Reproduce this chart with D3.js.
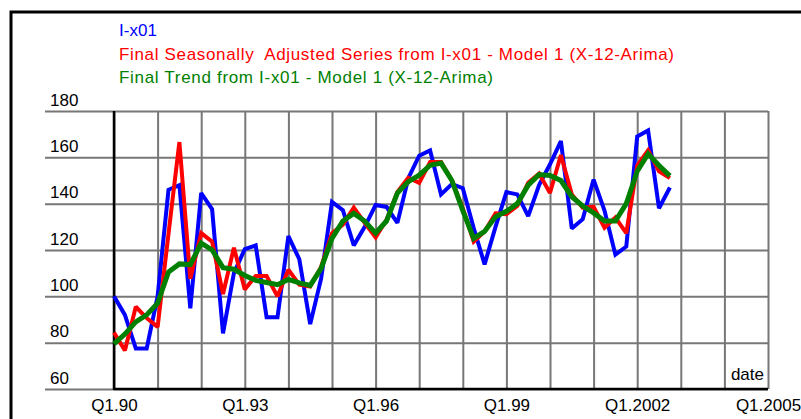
<!DOCTYPE html>
<html>
<head>
<meta charset="utf-8">
<script src="https://cdn.jsdelivr.net/npm/d3@7"></script>
<style>
body { margin: 0; background: #fff; }
svg { display: block; font-family: "Liberation Sans", Arial, sans-serif; }
</style>
</head>
<body>
<div id="chart"></div>
<script>
// quarterly data, starting Q1 1990
const yTicks = [60, 80, 100, 120, 140, 160, 180];
const yearTicks = d3.range(0, 61, 4);              // quarter index of every Q1
const labelTicks = [0, 12, 24, 36, 48, 60];
const xLabels = ["Q1.90", "Q1.93", "Q1.96", "Q1.99", "Q1.2002", "Q1.2005"];

const seriesNames = [
    "I-x01",
    "Final Seasonally  Adjusted Series from I-x01 - Model 1 (X-12-Arima)",
    "Final Trend from I-x01 - Model 1 (X-12-Arima)"
];
const seriesColors = ["#0000ff", "#ff0000", "#008000"];
const legendWidths = [38, 555, 374];

const original = [100, 92, 77.5, 77.5, 100, 146, 148, 94.8, 144.6, 137.6, 84, 110,
    120.4, 122, 91, 91, 126, 116, 88, 107.6, 140.8, 137.2, 122, 130,
    139.4, 138.6, 131.7, 151, 160.7, 163, 144, 148.5, 146.7, 129.5, 113.8, 130,
    145, 144, 134.6, 148, 157, 167, 129.3, 133.3, 150.4, 137, 118, 121.5,
    169, 171.6, 138, 147];
const seasAdj = [84.4, 76.6, 95.5, 90.6, 86.8, 127, 166.6, 107.6, 127.3, 123.6, 101, 121,
    103, 108.8, 108.8, 100, 111.5, 105, 104.2, 112.7, 127.3, 131, 138.3, 131.7,
    125.4, 133, 145, 151.2, 149, 158, 158, 150, 138, 123.6, 128, 135.8,
    135.5, 139, 149, 153, 144.6, 161, 144, 138.3, 138.6, 129.6, 134, 127.3,
    156.5, 163, 154, 151];
const trend = [79.5, 83.7, 89, 92, 97, 110.5, 114, 113.7, 123, 120, 112.4, 111.7,
    109, 106.9, 106, 105, 107.3, 105.8, 104.7, 112, 125, 132.5, 135.8, 132.5,
    127.3, 132.5, 144.6, 149.5, 152.3, 156.6, 157.5, 150, 137, 125, 128, 134.3,
    136.7, 140, 148, 152.6, 152.2, 150, 143, 139, 136, 132.5, 132.5, 140,
    154, 161.5, 156.5, 152];

const width = 801, height = 419;
const plot = {left: 114, right: 768, top: 111, bottom: 389, gridLeft: 45};

const svg = d3.select("#chart").append("svg")
    .attr("width", width)
    .attr("height", height);

// outer frame (only top and left edges fall inside the picture)
svg.append("rect")
    .attr("x", 11).attr("y", 12)
    .attr("width", 900).attr("height", 500)
    .attr("fill", "none")
    .attr("stroke", "#000")
    .attr("stroke-width", 3);

const x = d3.scaleLinear().domain([0, 60]).range([plot.left, plot.right]);
const y = d3.scaleLinear().domain([60, 180]).range([plot.bottom, plot.top]);

// horizontal grid + y labels
const yAxis = svg.append("g")
    .attr("class", "yAxis")
    .attr("transform", `translate(${plot.gridLeft},0)`)
    .call(d3.axisRight(y).tickValues(yTicks).tickSize(plot.right - plot.gridLeft));
yAxis.select(".domain").remove();
yAxis.selectAll("line").attr("stroke", "#777").attr("stroke-width", 2);
yAxis.selectAll("text")
    .attr("x", 5).attr("dy", "-6")
    .attr("text-anchor", "start")
    .attr("font-size", 17)
    .attr("font-family", "Liberation Sans, Arial, sans-serif")
    .attr("fill", "#000");

// vertical grid (every year)
const xGrid = svg.append("g")
    .attr("class", "xGrid")
    .attr("transform", `translate(0,${plot.bottom})`)
    .call(d3.axisTop(x).tickValues(yearTicks).tickSize(plot.bottom - plot.top).tickFormat(""));
xGrid.select(".domain").remove();
xGrid.selectAll("line").attr("stroke", "#777").attr("stroke-width", 2);

// x labels every three years
const xAxis = svg.append("g")
    .attr("class", "xAxis")
    .attr("transform", `translate(0,${plot.bottom})`)
    .call(d3.axisBottom(x).tickValues(labelTicks).tickSize(0)
        .tickFormat((d, i) => xLabels[i]));
xAxis.select(".domain").remove();
xAxis.selectAll("text")
    .attr("y", 22).attr("dy", 0)
    .attr("font-size", 17)
    .attr("font-family", "Liberation Sans, Arial, sans-serif")
    .attr("fill", "#000");

// black axis lines
svg.append("line")
    .attr("x1", x(0)).attr("x2", x(0))
    .attr("y1", plot.top).attr("y2", plot.bottom + 1)
    .attr("stroke", "#000").attr("stroke-width", 2.5);
svg.append("line")
    .attr("x1", x(0)).attr("x2", x(60))
    .attr("y1", plot.bottom).attr("y2", plot.bottom)
    .attr("stroke", "#000").attr("stroke-width", 2.5);

svg.append("text")
    .attr("x", 764).attr("y", 380)
    .attr("text-anchor", "end")
    .attr("font-size", 17)
    .text("date");

// series
const line = d3.line().x((d, i) => x(i)).y(d => y(d));
const series = [original, seasAdj, trend];
const widths = [4, 4, 5];
svg.append("g").attr("id", "plot")
    .selectAll("path")
    .data(series)
    .join("path")
    .attr("d", d => line(d))
    .attr("fill", "none")
    .attr("stroke", (d, i) => seriesColors[i])
    .attr("stroke-width", (d, i) => widths[i])
    .attr("stroke-linejoin", "miter")
    .attr("stroke-miterlimit", 2);

// legend
svg.append("g").attr("class", "legend")
    .selectAll("text")
    .data(seriesNames)
    .join("text")
    .attr("x", 119)
    .attr("y", (d, i) => 36 + i * 23.5)
    .attr("font-size", 17)
    .attr("fill", (d, i) => seriesColors[i])
    .attr("textLength", (d, i) => legendWidths[i])
    .attr("lengthAdjust", "spacing")
    .style("white-space", "pre")
    .text(d => d);
</script>
</body>
</html>
